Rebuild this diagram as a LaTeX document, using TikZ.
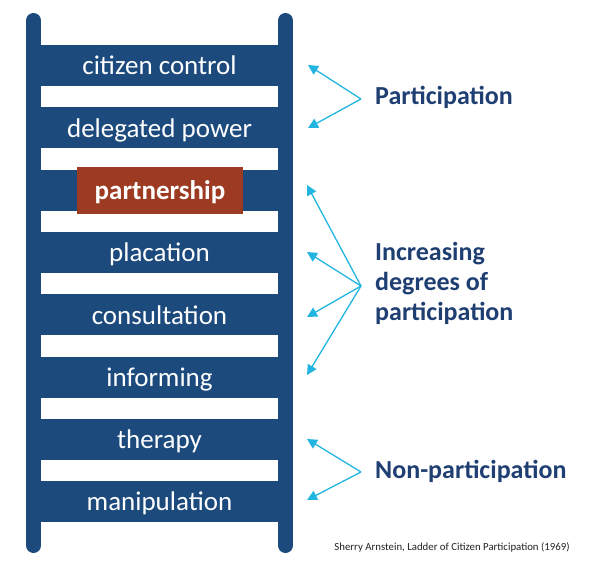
\documentclass[tikz,border=0pt]{standalone}
\usepackage{fontspec}
\setmainfont{Carlito}
\usetikzlibrary{arrows.meta}
\definecolor{ladder}{HTML}{1C4A7D}
\definecolor{brick}{HTML}{9C3B22}
\definecolor{cyanarr}{HTML}{22B5E0}
\definecolor{navy}{HTML}{1F3F72}
\definecolor{credittext}{HTML}{222222}
\begin{document}
\begin{tikzpicture}[x=1pt,y=-1pt,
  rung/.style={fill=ladder, minimum width=252pt, minimum height=41pt, inner sep=0pt, anchor=north},
  runglabel/.style={text=white, font=\fontsize{27}{32}\selectfont, anchor=base, inner sep=0pt},
  rail/.style={draw=ladder, line width=15pt, line cap=round},
  arr/.style={draw=cyanarr, line width=1.3pt, -{Triangle[length=10pt,width=10pt]}},
  grouplabel/.style={text=navy, font=\fontsize{26}{30}\selectfont\bfseries, inner sep=0pt}]
\useasboundingbox (0,0) rectangle (600,580);
% rails
\coordinate (lt) at (33.5,20.5); \coordinate (lb) at (33.5,545.5);
\coordinate (rt) at (285.5,20.5); \coordinate (rb) at (285.5,545.5);
\draw[rail] (lt) -- (lb);
\draw[rail] (rt) -- (rb);
% rungs
\node[rung] (r1) at (159.5,45) {};
\node[rung] (r2) at (159.5,107.3) {};
\node[rung] (r3) at (159.5,169.6) {};
\node[rung] (r4) at (159.5,231.9) {};
\node[rung] (r5) at (159.5,294.1) {};
\node[rung] (r6) at (159.5,356.4) {};
\node[rung] (r7) at (159.5,418.7) {};
\node[rung] (r8) at (159.5,481) {};
\node[fill=brick, minimum width=166pt, minimum height=47pt, inner sep=0pt, anchor=north] (pbox) at (160,167) {};
% rung labels
\node[runglabel] (t1) at (159.5,75) {citizen control};
\node[runglabel] (t2) at (159.5,137.3) {delegated power};
\node[runglabel, font=\fontsize{27}{32}\selectfont\bfseries] (t3) at (160,200) {partnership};
\node[runglabel] (t4) at (159.5,261.9) {placation};
\node[runglabel] (t5) at (159.5,324.1) {consultation};
\node[runglabel] (t6) at (159.5,386.4) {informing};
\node[runglabel] (t7) at (159.5,448.7) {therapy};
\node[runglabel] (t8) at (159.5,510.5) {manipulation};
% group labels
\node[grouplabel, anchor=base west] (gP) at (375,105) {Participation};
\node[grouplabel, anchor=west, align=left] (gI) at (375,283) {Increasing\\degrees of\\participation};
\node[grouplabel, anchor=base west] (gN) at (375,478) {Non-participation};
% arrows
\coordinate (aP) at (361,99);
\coordinate (p1) at (308,65); \coordinate (p2) at (308,128);
\draw[arr] (aP) -- (p1);
\draw[arr] (aP) -- (p2);
\coordinate (aI) at (361,286);
\coordinate (i1) at (307,185); \coordinate (i2) at (307,252);
\coordinate (i3) at (307,317); \coordinate (i4) at (307,375);
\draw[arr] (aI) -- (i1);
\draw[arr] (aI) -- (i2);
\draw[arr] (aI) -- (i3);
\draw[arr] (aI) -- (i4);
\coordinate (aN) at (361,472);
\coordinate (n1) at (307,439); \coordinate (n2) at (307,500);
\draw[arr] (aN) -- (n1);
\draw[arr] (aN) -- (n2);
% credit
\node[text=credittext, font=\fontsize{10.8}{13}\selectfont, anchor=base, inner sep=0pt] (credit) at (452,550) {Sherry Arnstein, Ladder of Citizen Participation (1969)};
\end{tikzpicture}
\end{document}
